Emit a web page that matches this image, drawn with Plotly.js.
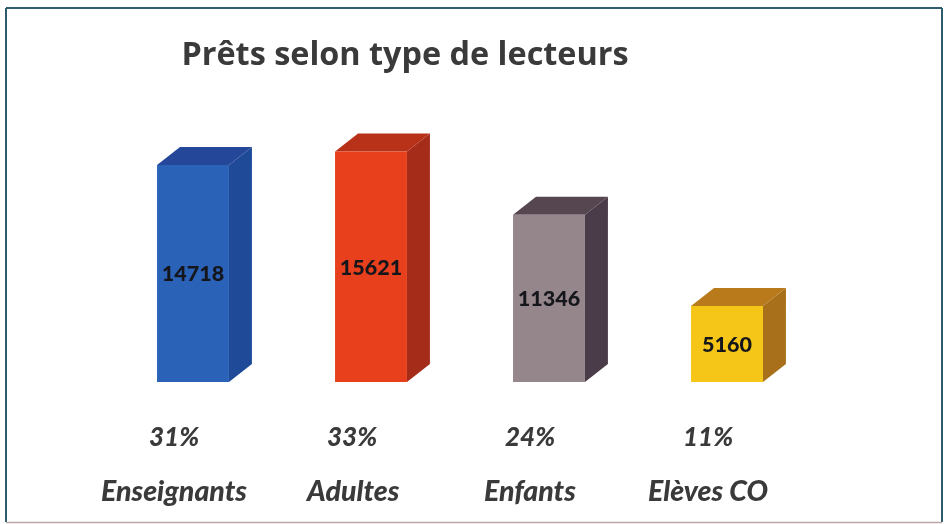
<!DOCTYPE html>
<html>
<head>
<meta charset="utf-8">
<script src="https://cdn.plot.ly/plotly-3.0.1.min.js"></script>
<style>html,body{margin:0;padding:0;background:#fff;overflow:hidden}#c{width:944px;height:524px;filter:blur(0.6px)}</style>
</head>
<body>
<div id="c"></div>
<script>
const categories = ["Enseignants", "Adultes", "Enfants", "Elèves CO"];
const values = [14718, 15621, 11346, 5160];
const percents = ["31%", "33%", "24%", "11%"];
const frontColors = ["#2a62b8", "#e8401c", "#94868a", "#f5c617"];
const topColors = ["#24479a", "#b8321a", "#554650", "#b97a1c"];
const sideColors = ["#1f4a98", "#a52c18", "#4a3c48", "#a8701a"];

const positions = categories.map((_, i) => i);
const barWidth = 0.404, depthX = 0.129, depthY = 1220;

const shapes = [];
positions.forEach((p, i) => {
  const r = p + barWidth / 2, l = p - barWidth / 2, v = values[i];
  shapes.push({type:"path", xref:"x", yref:"y", layer:"below", line:{width:0}, fillcolor:sideColors[i],
    path:`M${r},0 L${r + depthX},${depthY} L${r + depthX},${v + depthY} L${r},${v} Z`});
  shapes.push({type:"path", xref:"x", yref:"y", layer:"below", line:{width:0}, fillcolor:topColors[i],
    path:`M${l},${v} L${l + depthX},${v + depthY} L${r + depthX},${v + depthY} L${r},${v} Z`});
});
// outer frame, in paper fractions of the plot area
const fx = px => (px - 104) / 712, fy = py => (382 - py) / 295;
const edge = (x0, y0, x1, y1, color, width) => ({type:"line", xref:"paper", yref:"paper",
  x0:fx(x0), y0:fy(y0), x1:fx(x1), y1:fy(y1), line:{color, width}});
shapes.push(edge(6, 8, 942, 8, "#2f5c6c", 2));
shapes.push(edge(6, 8, 6, 522, "#2f5c6c", 2));
shapes.push(edge(942, 8, 942, 522, "#2f5c6c", 2));
shapes.push(edge(6, 522.5, 942, 522.5, "#b9a8a4", 1.5));

const percentFont = {family:"Lato, 'Open Sans', sans-serif", size:26, color:"#3a3a3a", weight:900, style:"italic"};
const labelFont = {family:"Lato, 'Open Sans', sans-serif", size:28.5, color:"#3a3a3a", weight:900, style:"italic"};
const annotations = [];
positions.forEach((p, i) => {
  annotations.push({x:p, xref:"x", xshift:-19, y:0, yref:"y", yshift:-54, yanchor:"middle", showarrow:false, text:percents[i], font:percentFont});
  annotations.push({x:p, xref:"x", xshift:-19, y:0, yref:"y", yshift:-108, yanchor:"middle", showarrow:false, text:categories[i], font:labelFont});
});

Plotly.newPlot("c", [{
  type:"bar", x:positions, y:values, width:barWidth,
  marker:{color:frontColors, line:{width:0}},
  text:values.map(String), textposition:"inside", insidetextanchor:"middle", textangle:0,
  textfont:{family:"Lato, 'Open Sans', sans-serif", size:21.5, color:"#14161c", weight:900},
  hoverinfo:"x+y"
}], {
  width:944, height:524,
  margin:{l:104, r:128, t:87, b:142, pad:0},
  paper_bgcolor:"#ffffff", plot_bgcolor:"rgba(0,0,0,0)",
  showlegend:false,
  title:{text:"Prêts selon type de lecteurs", x:405/944, xanchor:"center", y:1-54/524, yanchor:"middle",
    font:{family:"'Open Sans', sans-serif", size:32.4, color:"#3a3a3a", weight:700}},
  xaxis:{range:[-0.5,3.5], showticklabels:false, showgrid:false, zeroline:false, showline:false, ticks:"", tickvals:positions},
  yaxis:{range:[0,20000], showticklabels:false, showgrid:false, zeroline:false, showline:false, ticks:""},
  shapes:shapes, annotations:annotations
}, {displayModeBar:false});
</script>
</body>
</html>
